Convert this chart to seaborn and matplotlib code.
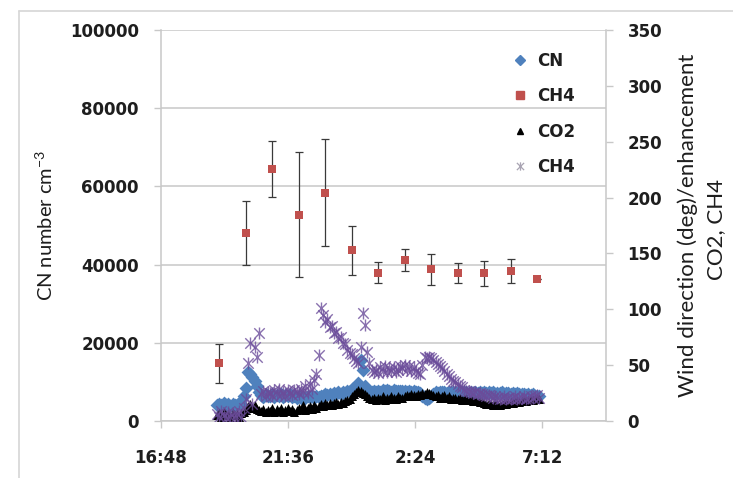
import numpy as np
import matplotlib
matplotlib.use("Agg")
import matplotlib.pyplot as plt
import seaborn as sns
from matplotlib.path import Path
from matplotlib.lines import Line2D

# ---------------- data ----------------
# dense 5-minute series starting 18:55
dense_start = "18:55"
dense_step_min = 5

cn_number = [
    4200, 4400, 4000, 4500, 4100, 4300, 3900, 4400, 4200, 4000, 4500, 4300,
    6500, 8500, 12500, 12000, 11200, 10200, 9000, 7500, 6600, 6200, 6800, 6300,
    6400, 6900, 6100, 6700, 6300, 6800, 6200, 6600, 6400, 6900, 6200, 6500,
    6000, 6300, 5800, 6200, 5900, 6400, 6100, 6300, 6000, 6500, 6200, 6400,
    6500, 6800, 6600, 7000, 6700, 7100, 6900, 7300, 7000, 7400, 7200, 7600,
    7800, 8200, 8400, 8600, 9700, 15600, 13000, 9000, 8000, 7600, 7400, 7700,
    7500, 7800, 7400, 7900, 7600, 8000, 7700, 7500, 7900, 7600, 7800, 7700,
    7600, 7800, 7500, 7700, 7400, 7600, 7300, 7500, 7200, 6400, 5800, 5600,
    5900, 6500, 7000, 7300, 7200, 7500, 7300, 7400, 7200, 7500, 7300, 7400,
    7300, 7500, 7200, 7400, 7300, 7500, 7200, 7400, 7100, 7300, 7200, 7400,
    7200, 7300, 7100, 7400, 7200, 7300, 7000, 7200, 7100, 7300, 7000, 7200,
    7100, 7000, 7200, 6900, 7100, 6800, 7000, 6900, 6700, 6900, 6600, 6800,
    6500, 6300, 6400,
]

co2_enh = [
    5, 7, 4, 8, 5, 6, 3, 7, 5, 6, 4, 7,
    8, 10, 13, 15, 12, 14, 11, 10, 9, 11, 8, 10,
    9, 12, 8, 11, 9, 12, 8, 10, 12, 9, 11, 8,
    10, 12, 11, 14, 10, 12, 13, 11, 14, 12, 13, 15,
    13, 16, 14, 16, 14, 16, 17, 15, 17, 16, 18, 19,
    20, 22, 24, 26, 28, 27, 25, 24, 22, 21, 20, 21,
    19, 21, 20, 22, 19, 21, 20, 22, 21, 20, 22, 21,
    21, 22, 23, 22, 24, 23, 22, 24, 23, 25, 24, 26,
    25, 24, 23, 22, 23, 21, 22, 23, 21, 22, 20, 21,
    21, 20, 21, 19, 20, 21, 19, 20, 18, 19, 18, 17,
    17, 16, 15, 16, 15, 14, 16, 15, 14, 15, 16, 15,
    16, 17, 16, 17, 18, 17, 18, 19, 18, 19, 20, 19,
    20, 21, 20,
]

ch4_enh = [
    6, 4, 9, 5, 3, 8, 4, 7, 3, 6, 9, 4,
    12, 20, 52, 70, 15, 66, 57, 79, 24, 27, 22, 26,
    25, 22, 28, 24, 29, 23, 26, 22, 28, 25, 23, 28,
    27, 24, 29, 26, 31, 25, 33, 29, 37, 42, 59, 101,
    95, 89, 91, 84, 85, 79, 80, 74, 75, 70, 69, 64,
    61, 60, 56, 54, 52, 66, 97, 86, 62, 52, 46, 44,
    46, 43, 48, 45, 49, 44, 47, 45, 48, 44, 46, 49,
    47, 50, 46, 49, 45, 48, 45, 43, 42, 50, 57, 56,
    57, 56, 55, 53, 51, 49, 47, 45, 42, 40, 38, 36,
    35, 33, 31, 30, 28, 27, 27, 26, 25, 26, 24, 25,
    24, 23, 22, 23, 22, 21, 22, 21, 20, 21, 22, 20,
    21, 20, 21, 22, 20, 21, 21, 22, 20, 21, 22, 21,
    22, 23, 21,
]

# hourly CH4 (left axis) with error bars
ch4_times = ["19:00", "20:00", "21:00", "22:00", "23:00", "00:00", "01:00",
             "02:00", "03:00", "04:00", "05:00", "06:00", "07:00"]
ch4_mean = [14800, 48000, 64400, 52800, 58400, 43700, 37900,
            41100, 38800, 37800, 37800, 38400, 36300]
ch4_err = [5000, 8200, 7200, 15900, 13700, 6300, 2650,
           2800, 4000, 2600, 3150, 3100, 0]

x_tick_labels = ["16:48", "21:36", "2:24", "7:12"]
x_range = ["16:48", "09:36"]
left_ticks = [0, 20000, 40000, 60000, 80000, 100000]
right_ticks = [0, 50, 100, 150, 200, 250, 300, 350]
legend_labels = ["CN", "CH4", "CO2", "CH4"]


def to_hours(s):
    h, m = map(int, s.split(":"))
    v = h + m / 60.0
    return v + 24 if v < 12 else v


t_dense = to_hours(dense_start) + np.arange(len(cn_number)) * dense_step_min / 60.0
t_ch4 = np.array([to_hours(s) for s in ch4_times])
x_ticks = [to_hours(s) for s in x_tick_labels]

# ---------------- style ----------------
sns.set_theme(style="white")
plt.rcParams["font.family"] = ["DejaVu Sans"]

C_CN = "#4F81BD"
C_SQ = "#C0504D"
C_CO2 = "#000000"
C_CH4 = "#6B4C9A"
GRID = "#C8C8C8"
TXT = "#1E1E1E"

ast = Path([(-1, -1), (1, 1), (-1, 1), (1, -1), (0, -1.15), (0, 1.15)],
           [Path.MOVETO, Path.LINETO] * 3)

W, H = 733, 478
fig = plt.figure(figsize=(W / 100, H / 100), dpi=100)
fig.patch.set_facecolor("white")
L, R, B, T = 161, 606, 421, 30
ax = fig.add_axes([L / W, 1 - B / H, (R - L) / W, (B - T) / H])
ax2 = ax.twinx()

# chart-area border (partially visible)
fig.add_artist(Line2D([19 / W, 19 / W], [0, 1 - 11 / H], transform=fig.transFigure,
                      color="#D6D6D6", lw=1.2))
fig.add_artist(Line2D([19 / W, 1], [1 - 11 / H, 1 - 11 / H], transform=fig.transFigure,
                      color="#D6D6D6", lw=1.2))

# primary axis series
sns.scatterplot(x=t_dense, y=cn_number, ax=ax, marker="D", s=50, color=C_CN,
                linewidth=0, zorder=3, legend=False)
ax.errorbar(t_ch4, ch4_mean, yerr=ch4_err, fmt="none", ecolor="#3A3A3A",
            elinewidth=0.9, capsize=3, capthick=0.9, zorder=4)
sns.scatterplot(x=t_ch4, y=ch4_mean, ax=ax, marker="s", s=40, color=C_SQ,
                linewidth=0, zorder=5, legend=False)

# secondary axis series
sns.scatterplot(x=t_dense, y=co2_enh, ax=ax2, marker="^", s=42, color=C_CO2,
                linewidth=0, zorder=3, legend=False)
sns.scatterplot(x=t_dense, y=ch4_enh, ax=ax2, marker=ast, s=75, color=C_CH4,
                edgecolor=C_CH4, linewidth=1.0, alpha=0.8, zorder=4, legend=False)

# axes setup
ax.set_xlim(to_hours(x_range[0]), to_hours(x_range[1]))
ax.set_ylim(0, 100000)
ax2.set_ylim(0, 350)
ax.set_xticks(x_ticks)
ax.set_xticklabels(x_tick_labels)
ax.set_yticks(left_ticks)
ax.set_yticklabels([str(v) for v in left_ticks])
ax2.set_yticks(right_ticks)
ax2.set_yticklabels([str(v) for v in right_ticks])

ax.yaxis.grid(True, color=GRID, lw=1.1)
ax.xaxis.grid(False)
ax2.grid(False)
ax.set_axisbelow(True)

for a in (ax, ax2):
    for s in a.spines.values():
        s.set_color(GRID)
        s.set_linewidth(1.1)
    a.spines["top"].set_visible(False)
ax.spines["right"].set_visible(False)
ax2.spines["left"].set_visible(False)
ax2.spines["bottom"].set_visible(False)

ax.tick_params(axis="y", direction="out", length=5, width=1, color=GRID,
               pad=11, labelsize=12, labelcolor=TXT, left=True)
ax.tick_params(axis="x", direction="out", length=5, width=1, color=GRID,
               pad=15, labelsize=12, labelcolor=TXT, bottom=True)
ax2.tick_params(axis="y", direction="out", length=5, width=1, color=GRID,
                pad=10.5, labelsize=12, labelcolor=TXT, right=True)
for lab in ax.get_xticklabels() + ax.get_yticklabels() + ax2.get_yticklabels():
    lab.set_fontweight("bold")

# axis titles
fam = ["Lato", "DejaVu Sans"]
fig.text(45 / W, 1 - 225 / H, "CN number cm$^{\\mathregular{-3}}$", rotation=90,
         ha="center", va="center", fontsize=14.5, color=TXT, family=fam)
fig.text(688 / W, 1 - 225 / H, "Wind direction (deg)/enhancement", rotation=90,
         ha="center", va="center", fontsize=16, color=TXT, family=fam)
fig.text(716 / W, 1 - 229 / H, "CO2, CH4", rotation=90, ha="center", va="center",
         fontsize=16, color=TXT, family=fam)

# legend
handles = [
    Line2D([], [], ls="none", marker="D", ms=5, mfc=C_CN, mec=C_CN),
    Line2D([], [], ls="none", marker="s", ms=6, mfc=C_SQ, mec=C_SQ),
    Line2D([], [], ls="none", marker="^", ms=5, mfc=C_CO2, mec=C_CO2),
    Line2D([], [], ls="none", marker=ast, ms=6, mfc="#A9A4B3", mec="#A9A4B3", mew=0.9),
]
leg = fig.legend(handles, legend_labels, loc="upper left",
                 bbox_to_anchor=(505 / W, 1 - 45 / H), frameon=False,
                 prop={"weight": "bold", "size": 12}, handlelength=1.0,
                 handletextpad=0.5, labelspacing=1.05, borderaxespad=0)
for t in leg.get_texts():
    t.set_color(TXT)

fig.savefig("out.png", dpi=100, facecolor="white")
